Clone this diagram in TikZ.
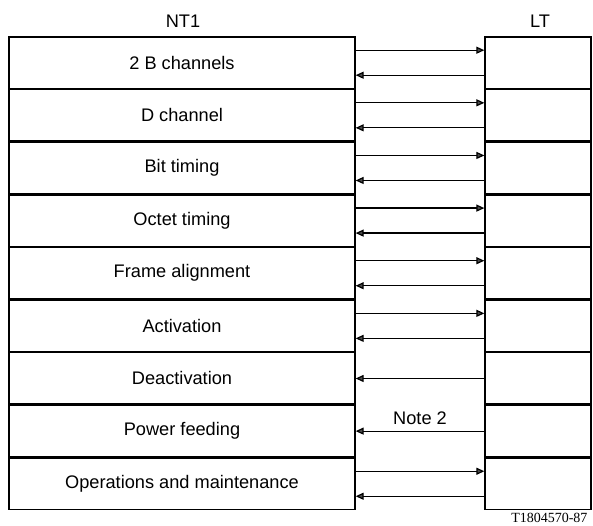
\documentclass[tikz,border=0pt]{standalone}
\usepackage{fontspec}
\setmainfont{Liberation Sans}
\newfontfamily\figserif{Liberation Serif}
\usetikzlibrary{arrows.meta,positioning}

\begin{document}
\begin{tikzpicture}[
  x=1pt,y=-1pt,
  fnbox/.style={draw,line width=1.3pt,minimum width=346pt,minimum height=51.33pt,inner sep=0pt,
    font=\fontsize{18.2}{21}\selectfont},
  ltbox/.style={draw,line width=1.3pt,minimum width=106pt,minimum height=51.33pt,inner sep=0pt},
  head/.style={font=\fontsize{18.2}{21}\selectfont},
  arr/.style={-{Triangle[length=8pt,width=7pt,fill=black!70]},line width=1.2pt},
  up/.style={yshift=12.5pt},
  dn/.style={yshift=-12.5pt}
]
\useasboundingbox (0,0) rectangle (593,526);
\node[head] (nt) at (183,21) {NT1};
\node[head] (lt) at (540,21) {LT};
% NT1 column
\node[fnbox] (f1) at (182,62.7) {2 B channels};
\node[fnbox,below=0pt of f1] (f2) {D channel};
\node[fnbox,below=0pt of f2] (f3) {Bit timing};
\node[fnbox,below=0pt of f3] (f4) {Octet timing};
\node[fnbox,below=0pt of f4] (f5) {Frame alignment};
\node[fnbox,below=0pt of f5] (f6) {Activation};
\node[fnbox,below=0pt of f6] (f7) {Deactivation};
\node[fnbox,below=0pt of f7] (f8) {Power feeding};
\node[fnbox,below=0pt of f8] (f9) {Operations and maintenance};
% LT column
\node[ltbox] (l1) at (538,62.7) {};
\node[ltbox,below=0pt of l1] (l2) {};
\node[ltbox,below=0pt of l2] (l3) {};
\node[ltbox,below=0pt of l3] (l4) {};
\node[ltbox,below=0pt of l4] (l5) {};
\node[ltbox,below=0pt of l5] (l6) {};
\node[ltbox,below=0pt of l6] (l7) {};
\node[ltbox,below=0pt of l7] (l8) {};
\node[ltbox,below=0pt of l8] (l9) {};
% both directions
\draw[arr] ([up]f1.east) -- ([up]l1.west); \draw[arr] ([dn]l1.west) -- ([dn]f1.east);
\draw[arr] ([up]f2.east) -- ([up]l2.west); \draw[arr] ([dn]l2.west) -- ([dn]f2.east);
\draw[arr] ([up]f3.east) -- ([up]l3.west); \draw[arr] ([dn]l3.west) -- ([dn]f3.east);
\draw[arr] ([up]f4.east) -- ([up]l4.west); \draw[arr] ([dn]l4.west) -- ([dn]f4.east);
\draw[arr] ([up]f5.east) -- ([up]l5.west); \draw[arr] ([dn]l5.west) -- ([dn]f5.east);
\draw[arr] ([up]f6.east) -- ([up]l6.west); \draw[arr] ([dn]l6.west) -- ([dn]f6.east);
% LT to NT1 only
\draw[arr] (l7.west) -- (f7.east);
\draw[arr] (l8.west) -- node[above=3pt,head]{Note 2} (f8.east);
\draw[arr] ([up]f9.east) -- ([up]l9.west); \draw[arr] ([dn]l9.west) -- ([dn]f9.east);
\node[anchor=east,font=\figserif\fontsize{14}{16}\selectfont] (ref) at (591,518) {T1804570-87};
\end{tikzpicture}
\end{document}
